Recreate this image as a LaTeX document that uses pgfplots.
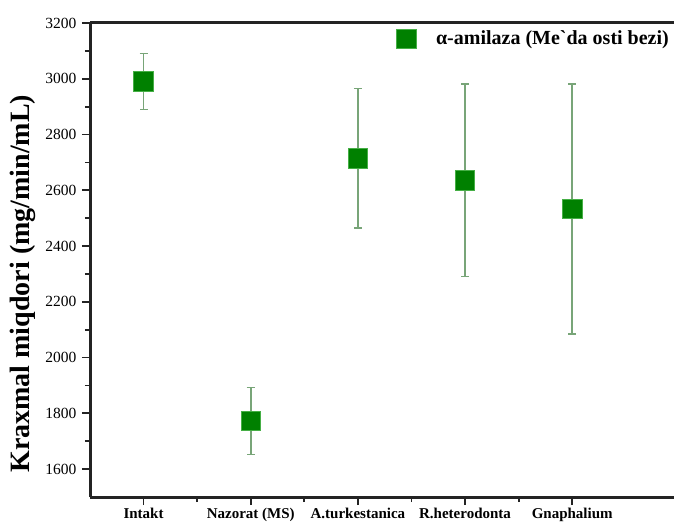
\documentclass[border=0pt]{standalone}
\usepackage{pgfplots}
\pgfplotsset{compat=1.18}
\usepackage{fontspec}
\setmainfont{Liberation Serif}
\definecolor{markgreen}{RGB}{0,128,0}
\definecolor{markedge}{RGB}{70,175,70}
\definecolor{errgreen}{RGB}{120,165,120}
\definecolor{axisgray}{RGB}{35,35,35}

\begin{document}
\begin{tikzpicture}
\useasboundingbox (0,0) rectangle (674pt,527pt);
\begin{axis}[
  at={(90pt,30pt)}, anchor=south west,
  scale only axis, width=584pt, height=474pt,
  xmin=0.5, xmax=5.95, ymin=1500, ymax=3200,
  axis y line*=left,
  y axis line style={-},
  axis line style={axisgray, line width=3pt},
  xtick={1,2,3,4,5},
  xticklabels={Intakt, Nazorat (MS), A.turkestanica, R.heterodonta, Gnaphalium},
  ytick={1600,1800,...,3200},
  minor x tick num=1, minor y tick num=1,
  xtick pos=lower, ytick pos=left,
  tick align=outside,
  major tick length=8pt, minor tick length=5pt,
  every tick/.style={axisgray, line width=1.8pt},
  /pgf/number format/assume math mode=true,
  /pgf/number format/1000 sep={},
  yticklabel style={font=\fontsize{15.5}{17}\selectfont, xshift=-2pt},
  xticklabel style={font=\bfseries\fontsize{15}{17}\selectfont},
  ylabel={Kraxmal miqdori (mg/min/mL)},
  ylabel style={font=\bfseries\fontsize{28}{30}\selectfont,
    at={(axis description cs:-0.115,0.45)}, anchor=center},
  legend style={draw=none, fill=none, at={(1.0,0.992)}, anchor=north east,
    column sep=18pt,
    font=\bfseries\fontsize{20}{22}\selectfont},
  legend cell align=left,
]
\addplot+[only marks, mark=square*, mark size=9.8pt,
  mark options={fill=markgreen, draw=markedge, line width=0.8pt},
  error bars/.cd, y dir=both, y explicit,
  error bar style={errgreen, line width=1.8pt},
  error mark options={rotate=90, mark size=4pt, errgreen, line width=1.5pt}]
coordinates {
  (1,2990) +- (0,100)
  (2,1773) +- (0,120)
  (3,2715) +- (0,250)
  (4,2636) +- (0,345)
  (5,2533) +- (0,448)
};
\addlegendentry{α-amilaza (Meˋda osti bezi)}
\end{axis}
\end{tikzpicture}
\end{document}
